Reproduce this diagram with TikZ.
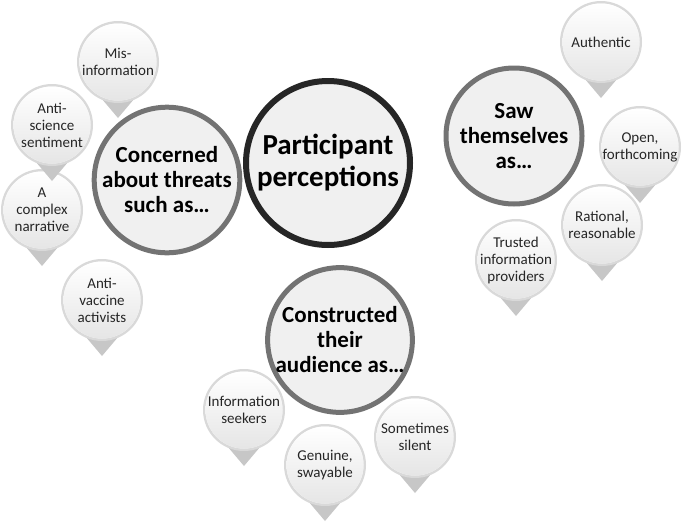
\documentclass[tikz,border=0pt]{standalone}
\usepackage{fontspec}
\setmainfont{Carlito}
\begin{document}
\begin{tikzpicture}[x=1pt,y=-1pt,
  pintext/.style={align=center,font=\fontsize{15}{17}\selectfont,text=black!85},
  hub/.style={circle,draw=black!55,line width=5pt,fill=black!6,inner sep=0pt,align=center,font=\bfseries\fontsize{23}{25}\selectfont},
  main/.style={circle,draw=black!85,line width=6pt,fill=black!6,inner sep=0pt,align=center,font=\bfseries\fontsize{29}{32}\selectfont}]
\useasboundingbox (0,0) rectangle (685,525);
\newcommand\mypin[4]{%
  \fill[black!22] (#1-22,#2+30) -- (#1+22,#2+30) -- (#1,#2+56) -- cycle;
  \fill[black!15] (#1,#2) circle (41);
  \fill[white,top color=white,bottom color=black!10] (#1,#2) circle (38.5);
  \node[pintext] (#3) at (#1,#2) {#4};}
\mypin{118}{62}{p1}{Mis-\\information}
\mypin{42}{210}{p3}{A\\complex\\narrative}
\mypin{52}{125}{p2}{Anti-\\science\\sentiment}
\mypin{102}{300}{p4}{Anti-\\vaccine\\activists}
\mypin{601}{42}{p5}{Authentic}
\mypin{640}{147}{p6}{Open,\\forthcoming}
\mypin{602}{225}{p7}{Rational,\\reasonable}
\mypin{516}{260}{p8}{Trusted\\information\\providers}
\mypin{244}{410}{p9}{Information\\seekers}
\mypin{325}{465}{p10}{Genuine,\\swayable}
\mypin{415}{437}{p11}{Sometimes\\silent}
\node[main,minimum size=164pt] (c) at (328,163) {Participant\\perceptions};
\node[hub,minimum size=128pt] (h1) at (167,180) {Concerned\\about threats\\such as\dots};
\node[hub,minimum size=136pt] (h2) at (514,136) {Saw\\themselves\\as\dots};
\node[hub,minimum size=138pt] (h3) at (340,340) {Constructed\\their\\audience as\dots};
\end{tikzpicture}
\end{document}
